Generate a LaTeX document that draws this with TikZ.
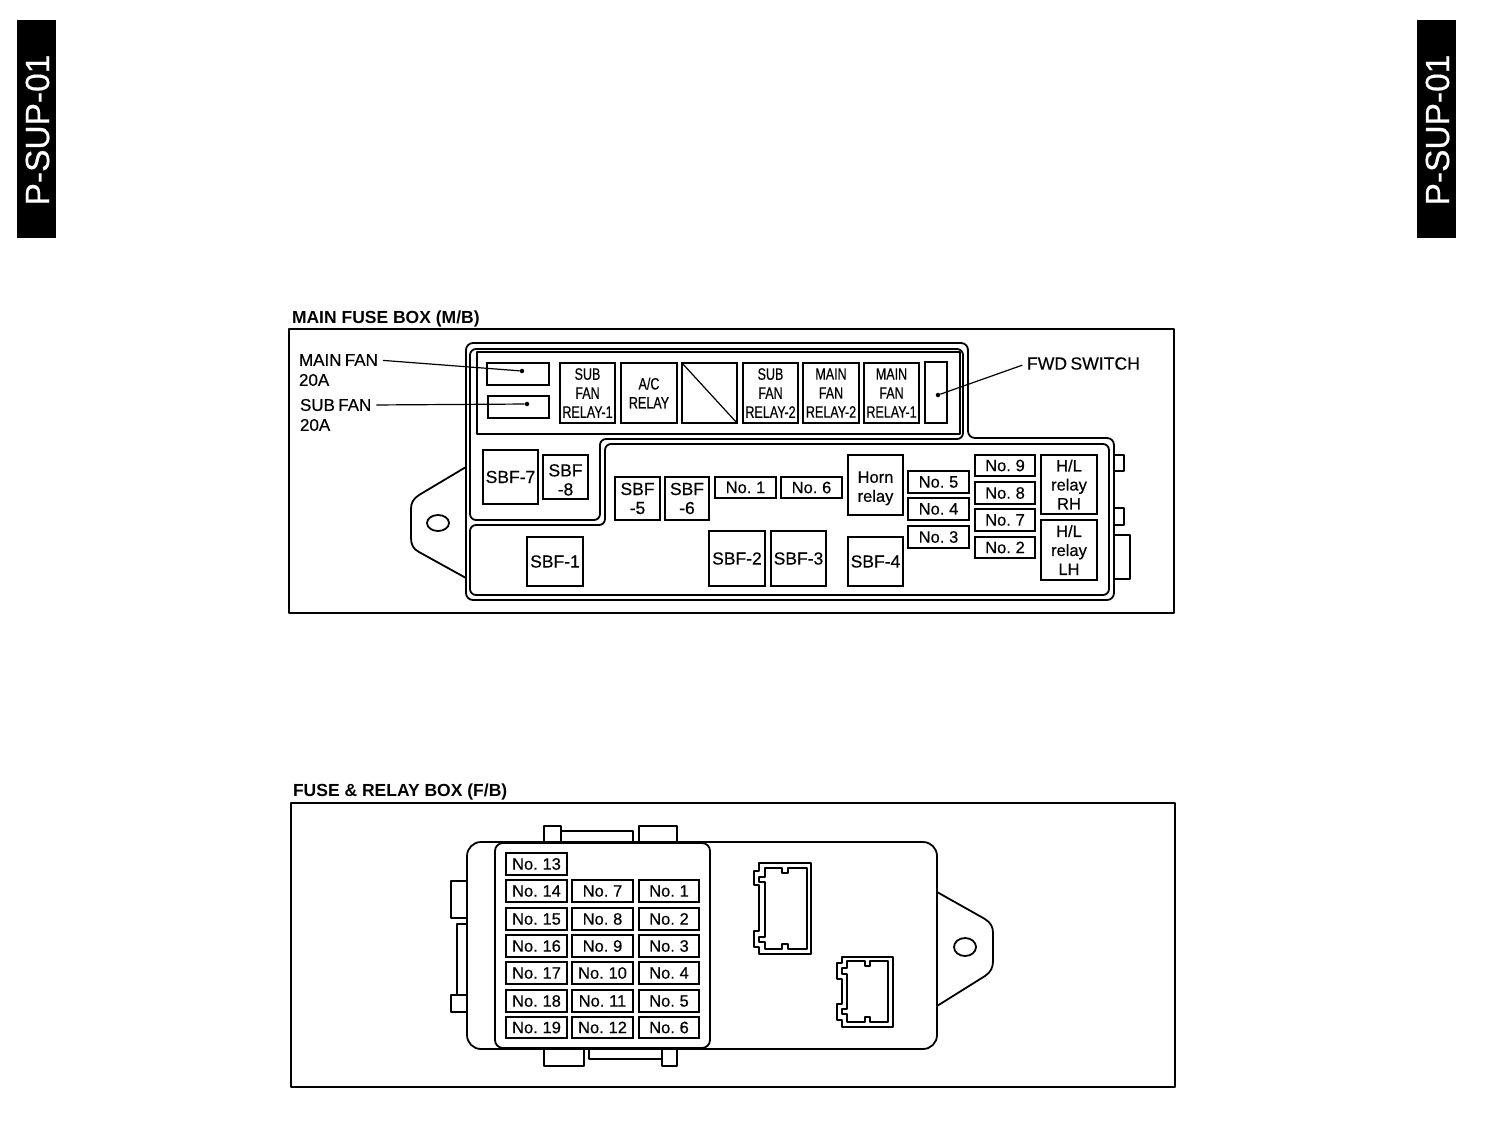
\documentclass[tikz,border=0pt]{standalone}
\usepackage{fontspec}
\setmainfont{Liberation Sans}
\newfontfamily\scanf[FakeBold=0.4,WordSpace=0.7]{Liberation Sans}
\newfontfamily\narrowf[FakeStretch=0.76,FakeBold=0.4]{Liberation Sans}
\tikzset{
  line/.style={draw=black,line width=1.8pt,line join=round},
  partbx/.style={draw=black,line width=1.8pt,inner sep=0pt,outer sep=0pt,align=center,
    font=\scanf\fontsize{16.5}{19}\selectfont},
  narrowbx/.style={partbx,font=\narrowf\fontsize{16.5}{19}\selectfont},
  sbfbx/.style={partbx,font=\scanf\fontsize{17.5}{19}\selectfont},
  lbl/.style={inner sep=0pt,outer sep=0pt,anchor=west,font=\scanf\fontsize{17}{19}\selectfont},
  ttl/.style={inner sep=0pt,outer sep=0pt,anchor=west,font=\bfseries\fontsize{17.5}{19}\selectfont},
  tabtxt/.style={inner sep=0pt,text=white,rotate=90,font=\scanf\fontsize{33.5}{36}\selectfont},
  leaderdot/.style={circle,fill=black,inner sep=0pt,minimum size=4.5pt},
  leader/.style={draw=black,line width=1.2pt,shorten <=5pt}
}
\newcommand\partbox[6][partbx]{%
  \node[#1,minimum width={(#5-#3)*1pt},minimum height={(#6-#4)*1pt}] (#2) at ({(#3+#5)/2},{(#4+#6)/2}) {};}
\newcommand\partboxt[7][partbx]{%
  \node[#1,minimum width={(#5-#3)*1pt},minimum height={(#6-#4)*1pt}] (#2) at ({(#3+#5)/2},{(#4+#6)/2}) {#7};}
\begin{document}
\begin{tikzpicture}[x=1pt,y=-1pt]
\useasboundingbox (0,0) rectangle (1504,1128);
% side tabs
\node[fill=black,minimum width=39pt,minimum height=218pt,inner sep=0pt] (tabL) at (36.5,129) {};
\node[tabtxt] (tabLt) at (37.5,130) {P-SUP-01};
\node[fill=black,minimum width=39pt,minimum height=218pt,inner sep=0pt] (tabR) at (1436.5,129) {};
\node[tabtxt] (tabRt) at (1437.5,130) {P-SUP-01};

% ---------- MAIN FUSE BOX
\node[ttl] (t1) at (292,319) {MAIN FUSE BOX (M/B)};
\draw[line] (289,329) rectangle (1174,613);
% outline
\draw[line,rounded corners=7pt] (466,467) -- (466,343) -- (968,343) -- (968,438) -- (1114,438) -- (1114,600) -- (466,600) -- (466,578);
\draw[line] (466,467) -- (466,578);
% upper inner compartment
\draw[line,rounded corners=6pt] (470,400) -- (470,349) -- (963,349) -- (963,439) -- (600,439) -- (600,520) -- (470,520) -- cycle;
% lower inner compartment
\draw[line,rounded corners=6pt] (530,595) -- (470,595) -- (470,525) -- (605,525) -- (605,444) -- (1109,444) -- (1109,595) -- cycle;
% relay frame
\draw[line] (477,352) rectangle (960,434);
% mount tab
\draw[line] (466,467) -- (419,495) .. controls (413,499) and (411,503) .. (411,509) -- (411,538) .. controls (411,544) and (413,549) .. (419,552) -- (466,578);
\draw[line] (438,523) ellipse [x radius=11,y radius=8];
% side lugs
\draw[line] (1115,455) -- (1124,455) -- (1124,471) -- (1115,471);
\draw[line] (1115,508) -- (1124,508) -- (1124,525) -- (1115,525);
\draw[line] (1115,535) -- (1130,535) -- (1130,579) -- (1115,579);

\partbox{mf}{487}{363}{549}{385}
\partbox{sf}{488}{396}{549}{418}
\partboxt[narrowbx]{sr1}{560}{363}{615}{423}{SUB\\FAN\\RELAY-1}
\partboxt[narrowbx]{ac}{621}{363}{677}{423}{A/C\\RELAY}
\partbox{blank}{682}{363}{737}{423}
\draw[line width=1.2pt] (blank.north west) -- (blank.south east);
\partboxt[narrowbx]{sr2}{743}{363}{798}{423}{SUB\\FAN\\RELAY-2}
\partboxt[narrowbx]{mr2}{803}{363}{859}{423}{MAIN\\FAN\\RELAY-2}
\partboxt[narrowbx]{mr1}{864}{363}{919}{423}{MAIN\\FAN\\RELAY-1}
\partbox{fwd}{925}{362}{947}{423}

\node[lbl] (lmf) at (299,360) {MAIN FAN};
\node[lbl] (lmfa) at (299,380) {20A};
\node[lbl] (lsf) at (300,405) {SUB FAN};
\node[lbl] (lsfa) at (300,425) {20A};
\node[lbl,font=\scanf\fontsize{17.6}{20}\selectfont] (lfwd) at (1027,363.5) {FWD SWITCH};
\node[leaderdot] (dmf) at (522,371) {};
\node[leaderdot] (dsf) at (527,404) {};
\node[leaderdot] (dfw) at (938,395) {};
\draw[leader] (lmf.east) -- (dmf);
\draw[leader] (lsf.east) -- (dsf);
\draw[leader] (lfwd.west) -- (dfw);

\partboxt[sbfbx,line width=1.2pt]{s7}{483}{450}{538}{504}{SBF-7}
\partboxt[sbfbx]{s8}{543}{455}{588}{499}{\rule{0pt}{18pt}SBF\\-8}
\partboxt[sbfbx]{s5}{615}{477}{660}{520}{SBF\\-5}
\partboxt[sbfbx]{s6}{665}{477}{709}{520}{SBF\\-6}
\partboxt{a1}{715}{477}{776}{498}{No. 1}
\partboxt{a6}{781}{477}{842}{498}{No. 6}
\partboxt{horn}{848}{455}{903}{515}{\rule{0pt}{18pt}Horn\\relay}
\partboxt[sbfbx]{s4}{848}{537}{903}{586}{SBF-4}
\partboxt[sbfbx]{s3}{771}{531}{826}{586}{SBF-3}
\partboxt[sbfbx]{s2}{709}{531}{765}{586}{SBF-2}
\partboxt[sbfbx]{s1}{527}{537}{583}{586}{SBF-1}
\partboxt{a5}{908}{471}{969}{493}{No. 5}
\partboxt{a4}{908}{498}{969}{520}{No. 4}
\partboxt{a3}{908}{526}{969}{548}{No. 3}
\partboxt{a9}{975}{455}{1035}{476}{No. 9}
\partboxt{a8}{975}{482}{1035}{504}{No. 8}
\partboxt{a7}{975}{509}{1035}{531}{No. 7}
\partboxt{a2}{975}{537}{1035}{558}{No. 2}
\partboxt{hr}{1041}{455}{1097}{514}{H/L\\relay\\RH}
\partboxt{hl}{1041}{520}{1097}{580}{H/L\\relay\\LH}

% ---------- FUSE & RELAY BOX
\node[ttl] (t2) at (293,792) {FUSE \& RELAY BOX (F/B)};
\draw[line] (291,803) rectangle (1175,1087);
% body
\draw[line,rounded corners=14pt] (600,842) -- (467,842) -- (467,1049) -- (937,1049) -- (937,842) -- cycle;
% mount tab
\draw[line] (937,892) -- (985,919) .. controls (991,923) and (993,927) .. (993,933) -- (993,961) .. controls (993,967) and (991,972) .. (985,976) -- (937,1006);
\draw[line] (965,947) ellipse [x radius=11,y radius=9];
% lugs
\draw[line] (544,842) -- (544,826) -- (561,826) -- (561,842);
\draw[line] (561,831) -- (633,831) -- (633,842);
\draw[line] (639,842) -- (639,826) -- (677,826) -- (677,842);
\draw[line] (544,1049) -- (544,1066) -- (584,1066) -- (584,1049);
\draw[line] (589,1049) -- (589,1059) -- (662,1059);
\draw[line] (662,1049) -- (662,1066) -- (677,1066) -- (677,1049);
\draw[line] (467,881) -- (451,881) -- (451,918) -- (467,918);
\draw[line] (467,924) -- (457,924) -- (457,994);
\draw[line] (467,995) -- (451,995) -- (451,1012) -- (467,1012);
% fuse panel
\draw[line,fill=white,rounded corners=8pt] (600,843) -- (495,843) -- (495,1048) -- (710,1048) -- (710,843) -- cycle;
% fuses
\partboxt{f13}{506}{853}{567}{875}{No. 13}
\partboxt{f14}{506}{880}{567}{902}{No. 14}
\partboxt{f15}{506}{908}{567}{930}{No. 15}
\partboxt{f16}{506}{935}{567}{957}{No. 16}
\partboxt{f17}{506}{962}{567}{984}{No. 17}
\partboxt{f18}{506}{990}{567}{1012}{No. 18}
\partboxt{f19}{506}{1017}{567}{1038}{No. 19}
\partboxt{f7}{572}{880}{633}{902}{No. 7}
\partboxt{f8}{572}{908}{633}{930}{No. 8}
\partboxt{f9}{572}{935}{633}{957}{No. 9}
\partboxt{f10}{572}{962}{633}{984}{No. 10}
\partboxt{f11}{572}{990}{633}{1012}{No. 11}
\partboxt{f12}{572}{1017}{633}{1038}{No. 12}
\partboxt{f1}{639}{880}{699}{902}{No. 1}
\partboxt{f2}{639}{908}{699}{930}{No. 2}
\partboxt{f3}{639}{935}{699}{957}{No. 3}
\partboxt{f4}{639}{962}{699}{984}{No. 4}
\partboxt{f5}{639}{990}{699}{1012}{No. 5}
\partboxt{f6}{639}{1017}{699}{1038}{No. 6}
% connector 1
\draw[line] (759,871) -- (759,863) -- (811,863) -- (811,954) -- (759,954) -- (759,947) -- (754,947) -- (754,931) -- (759,931) -- (759,885) -- (754,885) -- (754,871) -- cycle;
\draw[line] (765,868) -- (782,868) -- (782,873) -- (788,873) -- (788,868) -- (807,868) -- (807,949) -- (788,949) -- (788,944) -- (782,944) -- (782,949) -- (765,949) -- (765,942) -- (759,942) -- (759,937) -- (765,937) -- (765,882) -- (759,882) -- (759,877) -- (765,877) -- cycle;
% connector 2
\draw[line] (842,963) -- (842,957) -- (893,957) -- (893,1027) -- (842,1027) -- (842,1020) -- (837,1020) -- (837,1004) -- (842,1004) -- (842,979) -- (837,979) -- (837,963) -- cycle;
\draw[line] (847,961) -- (865,961) -- (865,966) -- (870,966) -- (870,961) -- (888,961) -- (888,1022) -- (870,1022) -- (870,1017) -- (865,1017) -- (865,1022) -- (847,1022) -- (847,1014) -- (842,1014) -- (842,1009) -- (847,1009) -- (847,974) -- (842,974) -- (842,968) -- (847,968) -- cycle;
\end{tikzpicture}
\end{document}
